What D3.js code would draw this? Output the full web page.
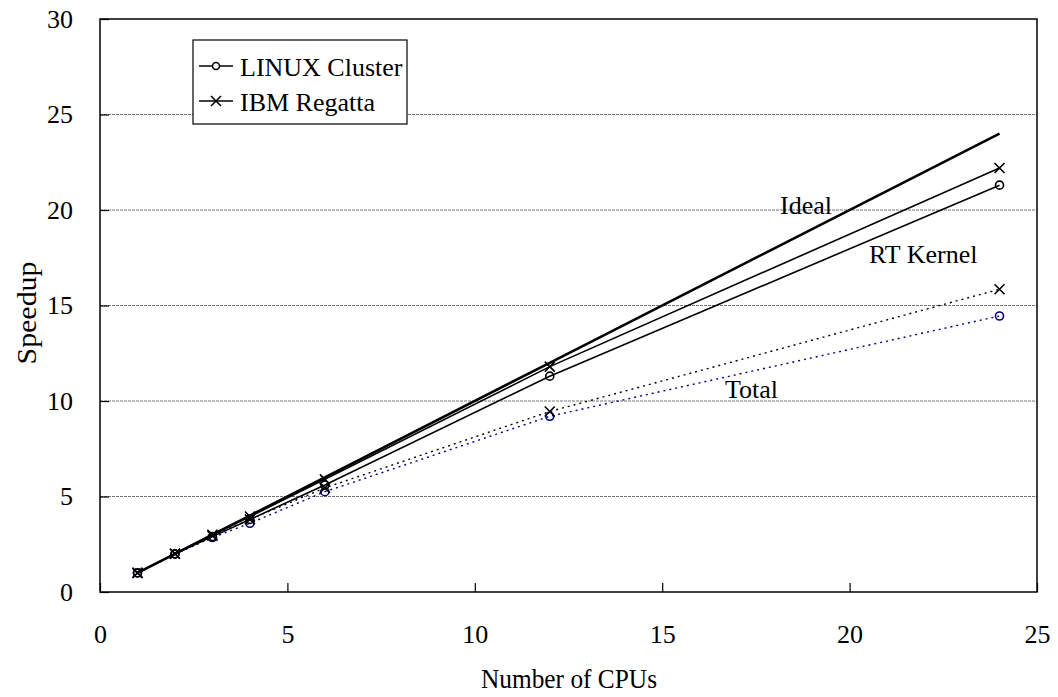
<!DOCTYPE html>
<html>
<head>
<meta charset="utf-8">
<script src="https://cdn.jsdelivr.net/npm/d3@7"></script>
<style>
body { margin: 0; background: #fff; }
text { font-family: "Liberation Serif", "Times New Roman", serif; fill: #000; }
</style>
</head>
<body>
<svg id="chart" width="1058" height="697"></svg>
<script>
// data
var cpus = [1, 2, 3, 4, 6, 12, 24];
var ideal = [1, 2, 3, 4, 6, 12, 24];
var rtLinux = [1, 2, 2.9, 3.8, 5.6, 11.3, 21.3];
var rtIbm = [1, 2, 3, 3.95, 5.9, 11.8, 22.2];
var totLinux = [1, 1.98, 2.85, 3.6, 5.25, 9.2, 14.45];
var totIbm = [1, 2, 2.95, 3.8, 5.45, 9.45, 15.85];
var xTicks = [0, 5, 10, 15, 20, 25];
var yTicks = [0, 5, 10, 15, 20, 25, 30];

var svg = d3.select("#chart");
var pLeft = 100, pRight = 1037, pTop = 19, pBottom = 592;

var x = d3.scaleLinear().domain([0, 25]).range([pLeft, pRight]);
var y = d3.scaleLinear().domain([0, 30]).range([pBottom, pTop]);

//grid lines
svg.selectAll(".grid").data(yTicks.filter(function(d){ return d > 0 && d < 30; }))
	.enter().append("line")
	.attr("x1", pLeft).attr("x2", pRight)
	.attr("y1", function(d){ return y(d); })
	.attr("y2", function(d){ return y(d); })
	.style("stroke", "#777")
	.style("stroke-width", 1)
	.style("stroke-dasharray", "3,1");

//frame
svg.append("rect")
	.attr("x", pLeft).attr("y", pTop)
	.attr("width", pRight - pLeft).attr("height", pBottom - pTop)
	.style("fill", "none").style("stroke", "#000").style("stroke-width", 1.5);

//axes with ticks inside
var xAxis = svg.append("g").attr("transform", "translate(0," + pBottom + ")")
	.call(d3.axisBottom(x).tickValues(xTicks).tickSizeInner(-9).tickSizeOuter(0).tickPadding(33));
var yAxis = svg.append("g").attr("transform", "translate(" + pLeft + ",0)")
	.call(d3.axisLeft(y).tickValues(yTicks).tickSizeInner(-9).tickSizeOuter(0).tickPadding(27));
[xAxis, yAxis].forEach(function(a) {
	a.select(".domain").remove();
	a.selectAll("line").style("stroke", "#000").style("stroke-width", 1.2);
	a.selectAll("text").style("font-family", "Liberation Serif").style("font-size", "26px").style("fill", "#000");
});

var line = d3.line()
	.x(function(d, i){ return x(cpus[i]); })
	.y(function(d){ return y(d); });

function drawSeries(vals, color, width, dash, marker) {
	svg.append("path")
		.attr("d", line(vals))
		.style("fill", "none")
		.style("stroke", color)
		.style("stroke-width", width)
		.style("stroke-dasharray", dash);
	if (marker === "circle") {
		svg.append("g").selectAll("circle").data(vals).enter().append("circle")
			.attr("cx", function(d, i){ return x(cpus[i]); })
			.attr("cy", function(d){ return y(d); })
			.attr("r", 4)
			.style("fill", "none").style("stroke", color).style("stroke-width", 1.6);
	} else if (marker === "x") {
		svg.append("g").selectAll("path").data(vals).enter().append("path")
			.attr("d", function(d, i){
				var cx = x(cpus[i]), cy = y(d), s = 5;
				return "M" + (cx - s) + "," + (cy - s) + "L" + (cx + s) + "," + (cy + s) +
					"M" + (cx - s) + "," + (cy + s) + "L" + (cx + s) + "," + (cy - s);
			})
			.style("stroke", color).style("stroke-width", 1.6);
	}
}

drawSeries(totLinux, "#000080", 1.4, "2,4", "circle");
drawSeries(totIbm, "#000", 1.4, "2,4", "x");
drawSeries(rtLinux, "#000", 1.6, null, "circle");
drawSeries(rtIbm, "#000", 1.6, null, "x");
drawSeries(ideal, "#000", 2.6, null, null);

//curve labels
svg.append("text").attr("x", 780).attr("y", 214).text("Ideal").style("font-size", "26px");
svg.append("text").attr("x", 869).attr("y", 263).text("RT Kernel").style("font-size", "26px");
svg.append("text").attr("x", 725).attr("y", 398).text("Total").style("font-size", "26px");

//axis titles
svg.append("text").attr("x", 569).attr("y", 688).attr("text-anchor", "middle")
	.attr("textLength", 176).attr("lengthAdjust", "spacingAndGlyphs")
	.text("Number of CPUs").style("font-size", "27px");
svg.append("text").attr("transform", "translate(36,313) rotate(-90)").attr("text-anchor", "middle")
	.attr("textLength", 103).attr("lengthAdjust", "spacingAndGlyphs")
	.text("Speedup").style("font-size", "27px");

//legend
var leg = svg.append("g");
leg.append("rect").attr("x", 193).attr("y", 40).attr("width", 214).attr("height", 84)
	.style("fill", "#fff").style("stroke", "#000").style("stroke-width", 1.2);
leg.append("line").attr("x1", 199).attr("x2", 233).attr("y1", 66).attr("y2", 66).style("stroke", "#000").style("stroke-width", 1.5);
leg.append("circle").attr("cx", 216).attr("cy", 66).attr("r", 3.5).style("fill", "#fff").style("stroke", "#000").style("stroke-width", 1.5);
leg.append("line").attr("x1", 199).attr("x2", 233).attr("y1", 101).attr("y2", 101).style("stroke", "#000").style("stroke-width", 1.5);
leg.append("path").attr("d", "M211,96L221,106M211,106L221,96").style("stroke", "#000").style("stroke-width", 1.5);
leg.append("text").attr("x", 240).attr("y", 76).text("LINUX Cluster").style("font-size", "26px");
leg.append("text").attr("x", 240).attr("y", 111).text("IBM Regatta").style("font-size", "26px");
</script>
</body>
</html>
